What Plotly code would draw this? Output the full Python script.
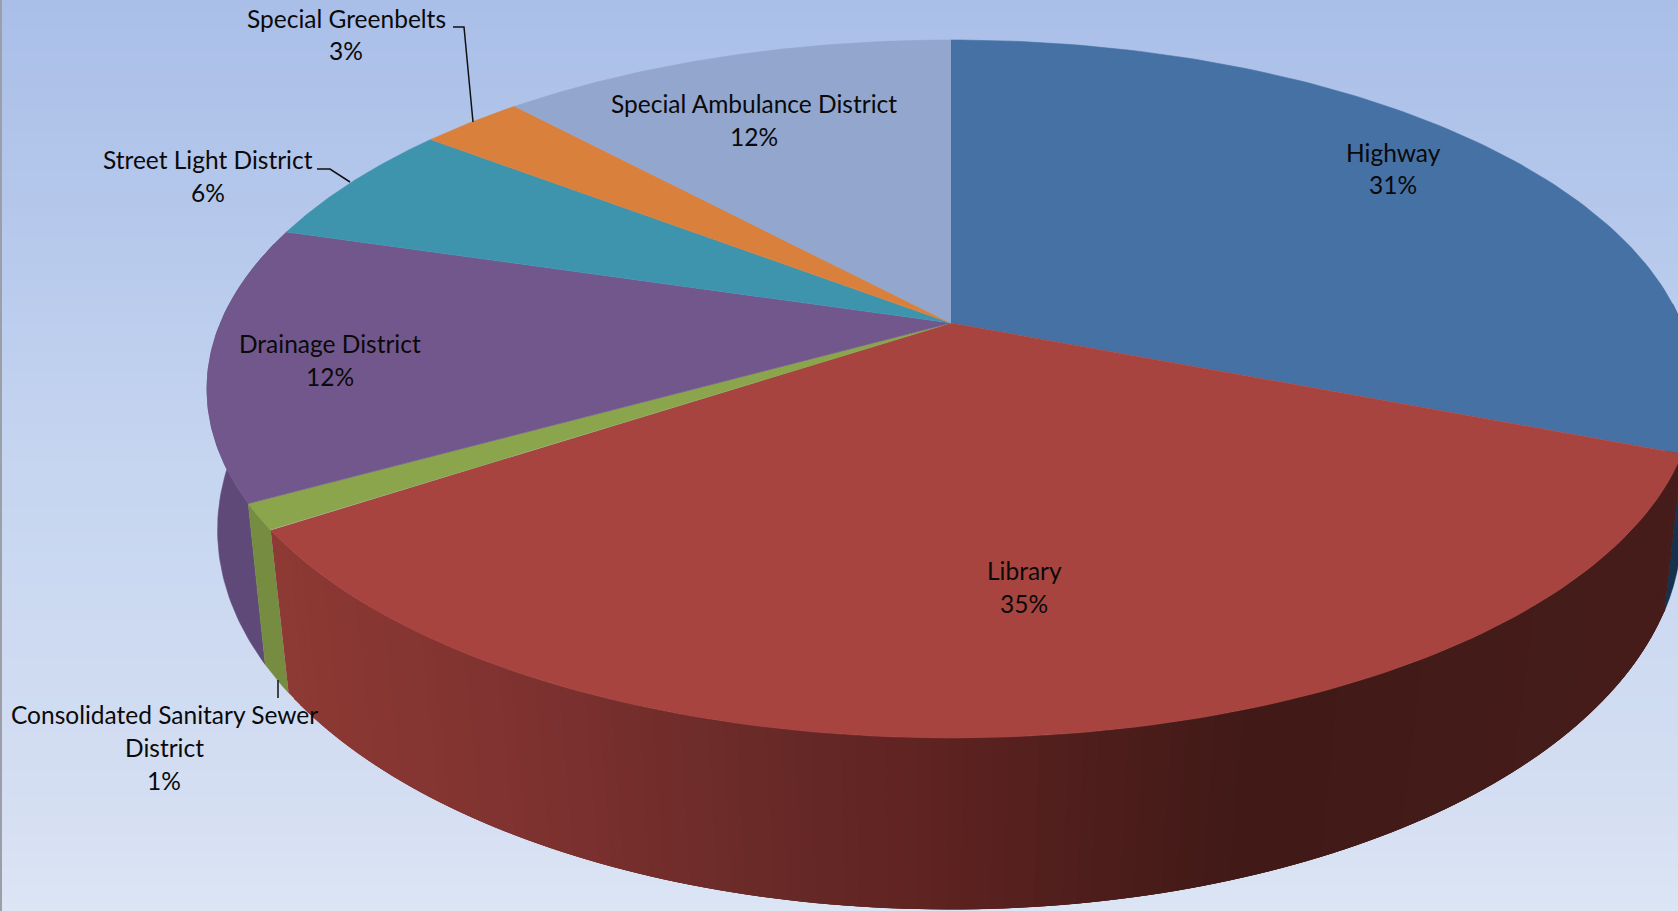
import numpy as np
import plotly.graph_objects as go

W, H = 1678, 911

# ---- data ----
categories = ["Highway", "Library", "Consolidated Sanitary Sewer District", "Drainage District",
              "Street Light District", "Special Greenbelts", "Special Ambulance District"]
slice_share = [30.9, 34.8, 1.2, 12.7, 5.8, 2.7, 11.9]
percent_labels = ["31%", "35%", "1%", "12%", "6%", "3%", "12%"]
top_colors = ["#4571A5", "#A84440", "#8AA54B", "#72578C", "#3F94AD", "#D9813C", "#92A6CE"]
wall_colors = ["#17324D", None, "#758C41", "#5F4978", "#2F7085", "#A5622D", "#6F7F9D"]

# label lines: (text lines, centre x, centre y of every line)
label_lines = [
    (["Highway"], 1393, [152, 184]),
    (["Library"], 1024, [570, 603]),
    (["Consolidated Sanitary Sewer", "District"], 164, [714, 747, 780]),
    (["Drainage District"], 330, [343, 376]),
    (["Street Light District"], 208, [159, 192]),
    (["Special Greenbelts"], 346, [18, 50]),
    (["Special Ambulance District"], 754, [103, 136]),
]
leaders = [
    ([453, 464, 473], [27, 27, 122]),
    ([317, 330, 350], [169, 169, 182]),
    ([278, 278], [680, 698]),
]

# background gradient stops (y, colour)
bg_y = [-50, 0, 200, 450, 790, 911, 960]
bg_rgb = [(168, 189, 231), (170, 191, 232), (180, 199, 235), (197, 213, 240), (212, 222, 242), (220, 229, 244), (220, 229, 244)]

# red wall shade along the screen x
red_x = [289, 500, 790, 936, 1100, 1250, 1678]
red_r = [141, 128, 103, 95, 78, 65, 70]
red_g = [57, 51, 41, 35, 30, 26, 29]
red_b = [52, 49, 39, 33, 28, 23, 26]

# projection of the two discs
TOP = dict(cx=951, y0=323, r=730.6, s=336.5, k=0.189)
BOT = dict(cx=949.5, y0=469, r=722.5, s=370, k=0.16)


def project(theta, p):
    u, v = np.sin(theta), np.cos(theta)
    w = 1 + p["k"] * v
    return p["cx"] + p["r"] * u / w, p["y0"] - p["s"] * v / w


fig = go.Figure()

# background
lo, hi = bg_y[0], bg_y[-1]
scale = [[(y - lo) / (hi - lo), "rgb(%d,%d,%d)" % c] for y, c in zip(bg_y, bg_rgb)]
rows = np.linspace(lo, hi, 120)
fig.add_trace(go.Heatmap(x=[-100, W + 100], y=rows, z=[[r, r] for r in rows], zmin=lo, zmax=hi,
                         colorscale=scale, showscale=False, hoverinfo="skip", zsmooth="best"))


def poly(xs, ys, color, lw=0.6):
    fig.add_trace(go.Scatter(x=xs, y=ys, mode="lines", fill="toself", fillcolor=color,
                             line=dict(color=color, width=lw), hoverinfo="skip", showlegend=False))


edges = np.radians(np.concatenate([[0], np.cumsum(slice_share)]) * 3.6)

# walls, back to front
for i in [0, 3, 2]:
    t = np.linspace(edges[i], edges[i + 1], 60)
    if i == 0:
        t = t[t > np.radians(85)]
    if i == 3:
        t = t[t < np.radians(285)]
    x1, y1 = project(t, TOP)
    x2, y2 = project(t[::-1], BOT)
    poly(np.r_[x1, x2], np.r_[y1, y2], wall_colors[i])

# library wall as narrow shaded strips, each one overlapped by the next
t = np.linspace(edges[1], edges[2], 130)[::-1]
for j in range(len(t) - 1):
    pair = t[j:j + 4]
    x1, y1 = project(pair, TOP)
    x2, y2 = project(pair[::-1], BOT)
    xm = x1[:2].mean()
    color = "rgb(%d,%d,%d)" % (np.interp(xm, red_x, red_r), np.interp(xm, red_x, red_g), np.interp(xm, red_x, red_b))
    poly(np.r_[x1, x2], np.r_[y1, y2], color, lw=0)

# top faces
for i in range(len(slice_share)):
    t = np.linspace(edges[i], edges[i + 1], 120)
    x, y = project(t, TOP)
    poly(np.r_[TOP["cx"], x], np.r_[TOP["y0"], y], top_colors[i])

# leader lines
for lx, ly in leaders:
    fig.add_trace(go.Scatter(x=lx, y=ly, mode="lines", line=dict(color="#111111", width=1.5),
                             hoverinfo="skip", showlegend=False))

# text
for (lines, cx, ys), pct in zip(label_lines, percent_labels):
    for txt, yy in zip(lines + [pct], ys):
        fig.add_annotation(x=cx, y=yy, text=txt, showarrow=False, xanchor="center", yanchor="middle",
                           font=dict(family="Lato", size=24.5, color="#0a0a0a"))

fig.add_shape(type="line", x0=1, x1=1, y0=0, y1=H, line=dict(color="#9a9fa8", width=2), layer="above")

fig.update_layout(
    width=W, height=H, margin=dict(l=0, r=0, t=0, b=0), showlegend=False,
    paper_bgcolor="#dce5f4", plot_bgcolor="#dce5f4",
    xaxis=dict(range=[0, W], visible=False, fixedrange=True),
    yaxis=dict(range=[H, 0], visible=False, fixedrange=True),
)
fig.write_html("out.html", config=dict(displayModeBar=False, responsive=False),
               post_script="document.body.style.margin='0';document.body.style.overflow='hidden';")
